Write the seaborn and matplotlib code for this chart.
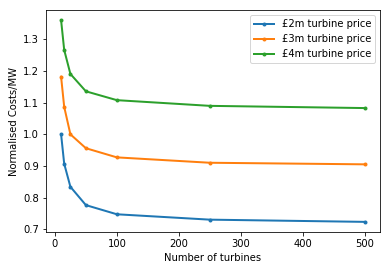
import numpy as np
import pandas as pd
import matplotlib
matplotlib.use("Agg")
import matplotlib.pyplot as plt
import seaborn as sns

turbines = [10, 15, 25, 50, 100, 250, 500]
cost_2m = [1.000, 0.907, 0.834, 0.776, 0.747, 0.730, 0.723]
cost_3m = [1.182, 1.087, 1.000, 0.956, 0.927, 0.910, 0.905]
cost_4m = [1.361, 1.267, 1.191, 1.136, 1.108, 1.090, 1.083]
labels = ["£2m turbine price", "£3m turbine price", "£4m turbine price"]

df = pd.DataFrame({
    "turbines": turbines * 3,
    "cost": cost_2m + cost_3m + cost_4m,
    "series": [labels[0]] * 7 + [labels[1]] * 7 + [labels[2]] * 7,
})

fig, ax = plt.subplots(figsize=(389 / 72, 266 / 72), dpi=72)
sns.lineplot(data=df, x="turbines", y="cost", hue="series", marker=".",
             markersize=8, markeredgewidth=0, linewidth=2, palette="tab10",
             ax=ax)
ax.set_xlabel("Number of turbines")
ax.set_ylabel("Normalised Costs/MW")
ax.legend(loc="upper right")
fig.subplots_adjust(left=0.118, right=0.977, top=0.962, bottom=0.128)
fig.savefig("out.png", dpi=72)
